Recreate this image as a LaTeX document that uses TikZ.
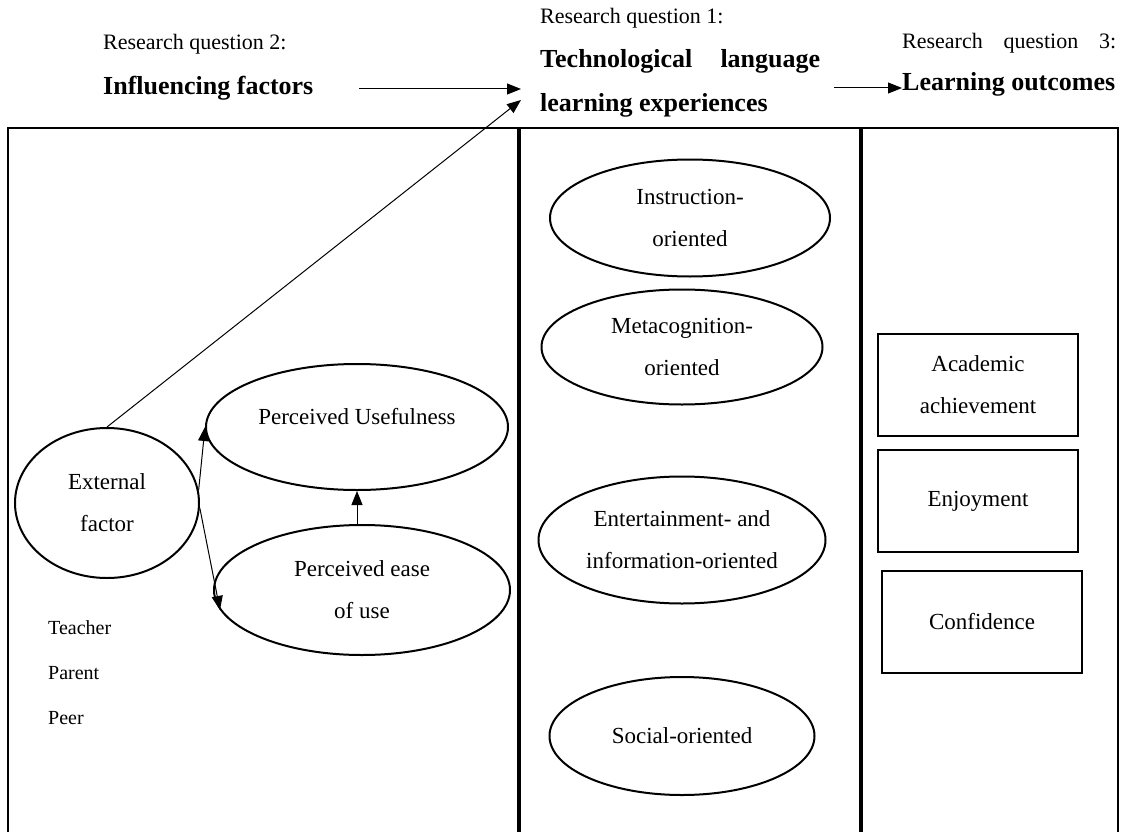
\documentclass[tikz,border=0pt]{standalone}
\usepackage{fontspec}
\setmainfont{Liberation Serif}
\usetikzlibrary{shapes.geometric,arrows.meta}

\tikzset{
  body/.style={font=\fontsize{23}{42}\selectfont, align=center},
  head/.style={font=\fontsize{22}{42}\selectfont, anchor=west, inner sep=0pt},
  headbold/.style={font=\fontsize{26}{44}\selectfont\bfseries, anchor=west, inner sep=0pt},
  small/.style={font=\fontsize{20}{40}\selectfont, anchor=west, inner sep=0pt},
  oval/.style={draw, ellipse, line width=2pt, inner sep=0pt},
  outcome/.style={draw, rectangle, line width=2pt, minimum width=200pt, minimum height=102pt,
                  inner sep=0pt, font=\fontsize{23}{42}\selectfont, align=center},
  arr/.style={line width=1pt, -{Triangle[length=14pt,width=11pt]}},
  frame/.style={line width=2pt},
  divider/.style={line width=4pt},
}

\begin{document}
\begin{tikzpicture}[x=1pt,y=-1pt]
\useasboundingbox (0,0) rectangle (1121,832);

% panel frame (open at the bottom)
\draw[frame] (8,840) -- (8,128) -- (1118,128) -- (1118,840);
\draw[divider] (519,128) -- (519,840);
\draw[divider] (861,128) -- (861,840);

% column headings
\node[head] (rq2) at (103,44) {Research question 2:};
\node[headbold] (inf) at (103,88) {Influencing factors};
\node[head] (rq1) at (540,18) {Research question 1:};
\node[headbold] (tll) at (540,61) {\hbox to 280pt{Technological\hfill language}};
\node[headbold] (lle) at (540,105) {learning experiences};
\node[head] (rq3) at (902,43) {\hbox to 214pt{Research\hfill question\hfill 3:}};
\node[headbold] (lo) at (902,84) {Learning outcomes};

\coordinate (a1s) at (359,89);
\coordinate (a1e) at (521,89);
\coordinate (a2s) at (834,88);
\coordinate (diagtip) at (521,100);
\draw[arr] (a1s) -- (a1e);
\draw[arr] (a2s) -- (lo.west |- a2s);

% influencing factors (TAM)
\node[oval, minimum width=184pt, minimum height=150pt, body] (ext) at (107,503) {External\\factor};
\node[oval, minimum width=302pt, minimum height=126pt] (pu) at (357,427) {};
\node[body] (putext) at (357,417) {Perceived Usefulness};
\node[oval, minimum width=296pt, minimum height=130pt, body] (ease) at (362,590) {Perceived ease\\of use};

\node[small] (teacher) at (48,628) {Teacher};
\node[small] (parent) at (48,673) {Parent};
\node[small] (peer) at (48,718) {Peer};

\draw[arr] (ext.north) -- (diagtip);
\draw[arr] (ext.8) -- (pu.west);
\draw[arr] (ext.-3) -- (ease.188);
\draw[arr] (ease.north -| pu.south) -- (pu.south);

% technological language learning experiences
\node[oval, minimum width=280pt, minimum height=117pt, body] (instr) at (690,218) {Instruction-\\oriented};
\node[oval, minimum width=281pt, minimum height=115pt, body] (meta) at (682,347) {Metacognition-\\oriented};
\node[oval, minimum width=287pt, minimum height=127pt, body] (ent) at (682,540) {Entertainment- and\\information-oriented};
\node[oval, minimum width=265pt, minimum height=118pt, body] (soc) at (682,736) {Social-oriented};

% learning outcomes
\node[outcome] (acad) at (978,385) {Academic\\achievement};
\node[outcome] (enj) at (978,501) {Enjoyment};
\node[outcome] (conf) at (982,622) {Confidence};

\end{tikzpicture}
\end{document}
